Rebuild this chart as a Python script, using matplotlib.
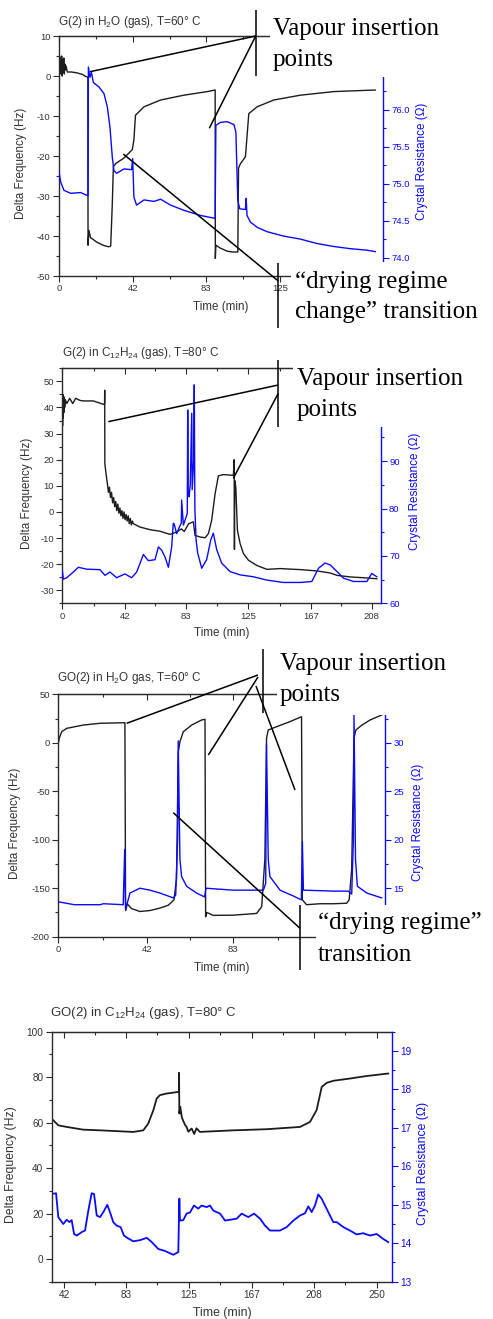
"""Four QCM panels: delta frequency (left axis) and crystal resistance (right axis) vs time."""

import matplotlib

matplotlib.use("Agg")
import matplotlib.pyplot as plt
from matplotlib.patches import Rectangle
from matplotlib.ticker import FixedLocator, FormatStrFormatter, MultipleLocator

# ---- panel 1: G(2) in H2O (gas), T=60 C ----
t1_freq = [0, 0.3, 0.6, 0.9, 1.2, 1.5, 1.8, 2.1, 2.4, 2.7, 3.0, 3.3, 3.6, 4.0, 4.7, 7, 10,
           13.2, 15, 16.3, 16.4, 16.9, 17.8, 21.6, 25.4, 28.2, 29.2, 30.1, 30.7, 32, 36.7,
           41.4, 42.3, 43.2, 48, 57.4, 70.5, 83.7, 88.2, 88.3, 88.6, 91, 95, 98, 101.0,
           101.4, 102.5, 105.3, 107.2, 111.9, 121.3, 136.3, 155.1, 178.6]
freq1 = [0, 5, 0.5, 4.5, 1, 5, 0, 4, 1, 4.5, 0.5, 3, 1.5, 2.5, 1.0, 1.0, 0.8, 0.4, -0.1,
         -0.3, -42.3, -38.6, -40.4, -41.6, -42.4, -42.7, -42.5, -32, -22.7, -21.9, -20.5,
         -18.4, -16, -9.8, -7.7, -6.0, -4.8, -3.9, -3.5, -45.6, -42.3, -43, -43.8, -44,
         -44, -23, -21.9, -20.2, -9.4, -7.7, -6.0, -4.8, -3.9, -3.5]
t1_res = [0, 1.0, 2.8, 6.6, 12.2, 16.0, 16.4, 16.6, 17.5, 18.3, 19.4, 22.6, 25.4, 27.3, 28.8,
          30.1, 31.0, 32.5, 36.7, 41.0, 41.6, 42.3, 43.8, 48, 53.6, 57.4, 63, 70.5, 79.9,
          88.2, 88.6, 91.2, 95, 98.8, 99.9, 101, 102.1, 105.3, 105.7, 106.2, 108.1, 111.9,
          117.5, 126.9, 136.3, 145.7, 155.1, 164.5, 173.9, 178.6]
res1 = [75.16, 75.02, 74.91, 74.87, 74.88, 74.84, 74.84, 76.58, 76.44, 76.51, 76.37, 76.31,
        76.22, 76.04, 75.76, 75.36, 75.18, 75.14, 75.20, 75.19, 75.34, 74.82, 74.71, 74.78,
        74.76, 74.79, 74.71, 74.64, 74.57, 74.53, 75.79, 75.83, 75.84, 75.80, 75.70, 74.77,
        74.66, 74.65, 74.80, 74.57, 74.48, 74.41, 74.35, 74.29, 74.25, 74.19, 74.15, 74.12,
        74.10, 74.08]

# ---- panel 2: G(2) in C12H24 (gas), T=80 C ----
t2_freq = [0, 0.2, 0.4, 0.6, 0.8, 1.0, 1.3, 1.6, 2.0, 3, 5, 7, 9, 11.9, 14, 20.9, 27.6, 28.4,
           28.5, 28.6, 29.4,
           30.3, 31, 31.7, 32.4, 33.1, 33.8, 34.5, 35.2, 35.9, 36.6, 37.3, 38.0, 38.7, 39.4,
           40.1, 40.8, 41.5, 42.2, 42.9, 43.6, 44.3, 45.0, 45.7, 46.4, 47.1, 47.7,
           52.2, 58.9, 65.6, 72.4, 76.9, 80, 82, 83.6, 85, 88.1, 89.2, 92.6, 96, 98.2, 100.4,
           102.7, 104.9, 108.3, 115.0, 115.5, 115.7, 115.9, 116.6, 117.7, 119.5, 121.7, 125.1,
           130.7, 137.5, 146.4, 159.9, 171.1, 180.1, 184.6, 193.5, 204.7, 211.4]
freq2 = [40, 33, 45, 36, 44, 38, 44, 40, 43, 41.5, 43.5, 41.5, 43.5, 42.7, 42.5, 42.5, 41.2,
         41.5, 46.6, 18.5, 14.6,
         10.8, 7.5, 9.5, 5.5, 7.5, 3.5, 5.5, 2.0, 4.0, 0.5, 3.0, -0.5, 1.5, -1.5,
         0.5, -2.5, 0, -3.0, -1.0, -3.5, -1.5, -4.5, -2.5, -5.0, -3.5, -4.5,
         -5.8, -6.8, -7.4, -8.6, -7.7, -6.5, -7.5, -5.8, -4.5, -3.8, -9.0, -9.6, -9.9,
         -8.3, -3.2, 7.0, 13.8, 14.3, 14.0, 20.0, -14.3, 12, 9.6, -7.0, -12.1, -15.9, -18.5,
         -20.5, -22.0, -21.7, -22.1, -22.6, -23.4, -24.3, -24.9, -25.3, -25.6]
t2_res = [0, 0.7, 3, 7.4, 10.8, 16.4, 25.3, 28.7, 32, 36.5, 42.1, 46.6, 50, 54.5, 57.8, 62.3,
          64.6, 66.8, 69.1, 71.3, 73.5, 74.6, 75.1, 76.9, 78.7, 80.0, 80.2, 81.4, 83.2, 84.0,
          84.3, 84.6, 85.2, 86.0, 87.0, 87.3, 88.3, 88.7, 89.1, 89.9, 91, 93.7, 97, 99.8,
          101.5, 103.8, 107.1, 112.7, 119.5, 128.4, 137.5, 148.6, 159.9, 167.7, 172.2, 176.6,
          180.1, 184.6, 189, 195.8, 204.7, 208, 211.4]
res2 = [66.9, 65.1, 65.4, 66.6, 67.6, 67.2, 67.1, 65.9, 66.6, 65.4, 66.2, 65.4, 66.6, 70.3,
        69.0, 69.2, 71.9, 71.2, 69.7, 67.6, 71.9, 76.9, 76.8, 74.7, 76.1, 76.9, 81.8, 76.5,
        78.2, 79, 100.8, 83, 82.5, 85, 100.1, 84, 90, 106.1, 80, 73.4, 70.6, 67.4, 69.2,
        73.4, 74.8, 71.3, 68.5, 66.7, 66.0, 65.6, 64.9, 64.4, 64.4, 64.6, 67.4, 68.5, 68.1,
        66.7, 65.3, 64.6, 64.6, 66.3, 65.6]

# ---- panel 3: GO(2) in H2O gas, T=60 C ----
t3_freq = [0, 0.5, 1.6, 4.0, 11.9, 19.8, 31.6, 31.9, 32.0, 32.7, 34.7, 38.7, 43.5, 48.2,
           52.2, 54.9, 56.1, 56.9, 57.7, 59.3, 63.3, 68.0, 69.6, 69.9, 70.4, 73.5, 83.0,
           94.1, 96.5, 98.0, 98.8, 99.6, 103.6, 109.9, 115.4, 115.8, 117.8, 124.1, 130.5,
           136.8, 138.0, 139.2, 140.3, 141.2, 143.9, 147.9, 153.4]
freq3 = [-0.6, 5, 11.4, 14.9, 18.3, 20.1, 20.7, -160, -173, -166, -171, -174, -173, -170.5,
         -167.5, -162, -140, -10, 1.1, 11.4, 18.3, 23.5, 24.2, -179.5, -175, -178, -177.8,
         -176, -169, -120, 5, 13.2, 16.6, 21.8, 26.9, -162, -167, -166, -166, -165.5, -162,
         -130, 5, 13.2, 18, 23.5, 28.6]
t3_res = [0, 7.6, 19.8, 21.4, 30.8, 31.5, 31.9, 34.0, 38.7, 43.5, 48.2, 54.6, 55.7, 56.6,
          56.9, 57.7, 58.5, 60.9, 65.6, 69.4, 70.1, 83.0, 97.3, 98.4, 98.8, 99.6, 100.4,
          105.2, 111.5, 115.3, 115.8, 116.3, 130.5, 137.6, 139.2, 140.0, 140.3, 141.0, 141.9,
          146.4, 153.4]
res3 = [13.6, 13.3, 13.3, 13.4, 13.3, 19.0, 12.8, 14.5, 15.0, 14.8, 14.5, 14.0, 14.3, 20,
        30.2, 18, 16.2, 15.2, 14.5, 14.1, 15.0, 14.8, 14.8, 15.5, 29.8, 18, 16.2, 14.8, 14.2,
        13.8, 19.8, 14.8, 14.7, 14.7, 14.4, 20, 32.9, 18, 15.2, 14.5, 14.0]

# ---- panel 4: GO(2) in C12H24 (gas), T=80 C ----
t4_freq = [34.7, 38, 43.6, 54.6, 65.8, 87.9, 94.6, 97.9, 101.3, 103.5, 105.7, 110.2, 117.9,
           118.3, 118.4, 118.6, 119.2, 120.2, 121.0, 122.4, 123.5, 124.6, 126.8, 128.5,
           130.0, 132.3, 135, 154.5, 176.8, 199, 205.6, 210, 213.4, 216.7, 221.1, 232.2,
           243.3, 257.7]
freq4 = [61.0, 58.8, 58.1, 56.9, 56.6, 55.9, 56.6, 59.6, 65.5, 70.6, 72.1, 72.8, 73.5, 73.5,
         81.9, 64, 67, 62.5, 61, 59, 58, 56, 57.4, 55, 57.5, 55.9, 56.0, 56.6, 57.1, 58.1,
         60.3, 65.5, 75.7, 77.5, 78.4, 79.4, 80.5, 81.6]
t4_res = [35.1, 36.5, 38.0, 41.3, 43.6, 45.4, 46.9, 48.5, 50.3, 53.6, 55.8, 58.0, 60.2, 61.8,
          63.6, 65.8, 68.0, 70.6, 72.4, 74.6, 76.8, 79.5, 81.7, 83.5, 87.9, 92.4, 96.9,
          100.2, 104.6, 109.0, 114.6, 117.9, 118.6, 119.0, 121.2, 123.4, 125.7, 128.3,
          131.2, 133.4, 136.8, 139.0, 141.2, 143.4, 145.7, 149.0, 152.4, 156.8, 160.1,
          164.5, 168.3, 172.3, 175.6, 179.0, 185.6, 190.1, 194.5, 198.9, 202.3, 204.5,
          206.7, 208.9, 211.1, 213.3, 215.6, 218.9, 221.1, 223.3, 227.8, 232.2, 236.6,
          241.1, 245.5, 250.0, 254.4, 257.7]
res4 = [15.29, 15.30, 14.68, 14.50, 14.61, 14.55, 14.60, 14.24, 14.20, 14.29, 14.33, 14.85,
        15.30, 15.28, 14.72, 14.68, 14.81, 15.00, 14.81, 14.55, 14.46, 14.42, 14.20, 14.15,
        14.05, 14.08, 14.14, 14.03, 13.85, 13.80, 13.70, 13.77, 15.16, 14.59, 14.60, 14.77,
        14.80, 14.98, 14.90, 14.98, 14.94, 14.98, 14.85, 14.81, 14.77, 14.59, 14.61, 14.64,
        14.77, 14.68, 14.77, 14.64, 14.46, 14.33, 14.33, 14.42, 14.59, 14.72, 14.78, 14.96,
        14.81, 14.98, 15.27, 15.16, 14.98, 14.72, 14.55, 14.55, 14.42, 14.33, 14.23, 14.26,
        14.20, 14.24, 14.11, 14.03]

titles = [
    r"G(2) in H$_\mathregular{2}$O (gas), T=60° C",
    r"G(2) in C$_\mathregular{12}$H$_\mathregular{24}$ (gas), T=80° C",
    r"GO(2) in H$_\mathregular{2}$O gas, T=60° C",
    r"GO(2) in C$_\mathregular{12}$H$_\mathregular{24}$ (gas), T=80° C",
]
# labelled time ticks (those hidden under the text boxes are left out) and minor ticks
time_ticks_1 = [0, 42, 83, 125]
time_ticks_2 = [0, 42, 83, 125, 167, 208]
time_ticks_3 = [0, 42, 83]
time_ticks_4 = [42, 83, 125, 167, 208, 250]
time_minor = [21, 62.5, 104, 146, 187.5, 229]
res_ticks_1 = [74.0, 74.5, 75.0, 75.5, 76.0, 76.5]
res_ticks_2 = [60, 70, 80, 90]
res_ticks_3 = [15, 20, 25, 30]
res_ticks_4 = [13, 14, 15, 16, 17, 18, 19]

W, H = 493, 1319
BLACK = "#1c1c1c"
BLUE = "#0a0aff"
TEXT = "#333333"
SPINE = "#2b2b2b"

plt.rcParams["font.family"] = ["Liberation Sans", "DejaVu Sans"]
plt.rcParams["mathtext.fontset"] = "custom"
plt.rcParams["mathtext.rm"] = "Liberation Sans"
plt.rcParams["axes.unicode_minus"] = False

fig = plt.figure(figsize=(W / 100, H / 100), dpi=100)


def px_axes(left, top, right, bottom):
    """Axes placed with pixel edges (origin top-left)."""
    return fig.add_axes([left / W, 1 - bottom / H, (right - left) / W, (bottom - top) / H])


def draw_panel(box, t_freq, freq, t_res, res, xlim, xticks, ylim, ystep,
               rlim, rticks, rminor, rfmt, tick_size, lw):
    ax = px_axes(*box)
    ax.plot(t_freq, freq, color=BLACK, lw=lw)
    ax.set_xlim(*xlim)
    ax.set_ylim(*ylim)
    ax.xaxis.set_major_locator(FixedLocator(xticks))
    ax.xaxis.set_minor_locator(FixedLocator(time_minor))
    ax.yaxis.set_major_locator(MultipleLocator(ystep))
    ax.yaxis.set_minor_locator(MultipleLocator(ystep / 2))
    ax.tick_params(which="both", direction="out", color=SPINE, labelcolor=TEXT,
                   labelsize=tick_size, width=0.8, pad=2, top=False, right=False)
    ax.tick_params(which="major", length=4)
    ax.tick_params(which="minor", length=2.5)
    for s in ("left", "bottom", "top"):
        ax.spines[s].set_color(SPINE)
        ax.spines[s].set_linewidth(1.0)
    ax.spines["right"].set_visible(False)

    # top axis: same ticks, pointing inward, no labels
    top = ax.secondary_xaxis("top")
    top.xaxis.set_major_locator(FixedLocator(xticks))
    top.xaxis.set_minor_locator(FixedLocator(time_minor))
    top.tick_params(which="both", direction="in", color=SPINE, width=0.8,
                    labeltop=False, labelbottom=False)
    top.tick_params(which="major", length=4)
    top.tick_params(which="minor", length=2.5)
    top.spines["top"].set_color(SPINE)

    tw = ax.twinx()
    tw.plot(t_res, res, color=BLUE, lw=lw)
    tw.set_ylim(*rlim)
    tw.yaxis.set_major_locator(FixedLocator(rticks))
    tw.yaxis.set_minor_locator(MultipleLocator(rminor))
    tw.yaxis.set_major_formatter(FormatStrFormatter(rfmt))
    tw.tick_params(which="both", direction="out", colors=BLUE, labelsize=tick_size,
                   width=0.8, pad=2)
    tw.tick_params(which="major", length=4)
    tw.tick_params(which="minor", length=2.5)
    for s in ("left", "top", "bottom"):
        tw.spines[s].set_visible(False)
    tw.spines["right"].set_color(BLUE)
    tw.spines["right"].set_linewidth(1.0)
    return ax, tw


draw_panel((59, 36, 383, 276), t1_freq, freq1, t1_res, res1, (0, 183), time_ticks_1,
           (-50, 10), 10, (73.75, 77.0), res_ticks_1, 0.25, "%.1f", 6.8, 1.0)
draw_panel((62.3, 368.3, 380.7, 603.3), t2_freq, freq2, t2_res, res2, (0, 214), time_ticks_2,
           (-35, 55), 10, (60, 109.6), res_ticks_2, 5, "%d", 6.8, 1.0)
draw_panel((58.3, 694.3, 385, 936.7), t3_freq, freq3, t3_res, res3, (0, 155), time_ticks_3,
           (-200, 50), 50, (10, 35), res_ticks_3, 2.5, "%d", 6.8, 1.0)
draw_panel((51.7, 1031.7, 391.7, 1281.7), t4_freq, freq4, t4_res, res4, (33.6, 260),
           time_ticks_4, (-10, 100), 20, (13, 19.5), res_ticks_4, 0.5, "%d", 7.2, 1.3)

# overlay in pixel coordinates for titles, labels, white text boxes and annotations
ov = fig.add_axes([0, 0, 1, 1], zorder=10)
ov.set_xlim(0, W)
ov.set_ylim(H, 0)
ov.axis("off")

title_pos = [(58.3, 22), (61.7, 352.7), (56.7, 678.3), (50, 1013.3)]
title_size = [8.5, 8.5, 8.5, 9.5]
for (x, y), s, fs in zip(title_pos, titles, title_size):
    ov.text(x, y, s, fontsize=fs, color=TEXT, ha="left", va="center")

label_pos = [
    ((21, 163.5), (421.7, 161.7), (221, 307), 8.4),
    ((26.7, 493.3), (415, 491.7), (222, 633.3), 8.4),
    ((15, 823.3), (418.3, 822.5), (221.3, 968.3), 8.4),
    ((10.7, 1165), (423.3, 1163.3), (222, 1313.3), 8.8),
]
for left, right, bottom, fs in label_pos:
    ov.text(*left, "Delta Frequency (Hz)", fontsize=fs, color=TEXT, rotation=90,
            ha="center", va="center")
    ov.text(*right, "Crystal Resistance (Ω)", fontsize=fs, color=BLUE, rotation=90,
            ha="center", va="center")
    ov.text(*bottom, "Time (min)", fontsize=fs, color=TEXT, ha="center", va="center")

# white boxes that hide parts of the frames behind the annotation text
covers = [(270, 0, 493, 76.5), (291, 262, 493, 330), (293, 330, 493, 426.7),
          (277, 640, 493, 715), (316, 905, 493, 975)]
for x0, y0, x1, y1 in covers:
    ov.add_patch(Rectangle((x0, y0), x1 - x0, y1 - y0, facecolor="white", edgecolor="none"))

pointer_lines = [
    ((255.7, 255.7), (10, 76)), ((255.7, 90), (36, 71.7)), ((255.7, 209.3), (36, 128.3)),
    ((278.3, 278.3), (263, 328)), ((123.3, 278.3), (154, 281)),
    ((278.3, 278.3), (360, 426.7)), ((278.3, 108.3), (385, 421.7)),
    ((278.3, 233.3), (393.3, 478.3)),
    ((262.5, 262.5), (649, 713)), ((258, 126.7), (675, 723.3)), ((258, 208.3), (677, 755)),
    ((256, 295), (686, 790)),
    ((300, 300), (905, 970)), ((173.3, 300), (812.7, 928.3)),
]
for xs, ys in pointer_lines:
    ov.plot(xs, ys, color="black", lw=1.1, solid_capstyle="butt")

# annotation text, one line each (left x, centre y)
notes = [
    (273, 29, "Vapour insertion"), (273, 60, "points"),
    (295, 282, "\u201cdrying regime"), (295, 312, "change\u201d transition"),
    (296.7, 379.3, "Vapour insertion"), (296.7, 410, "points"),
    (280, 664, "Vapour insertion"), (280, 695, "points"),
    (318, 923, "\u201cdrying regime\u201d"), (318, 955, "transition"),
]
for x, y, s in notes:
    ov.text(x, y, s, fontsize=18, family="Liberation Serif", color="black",
            ha="left", va="center")

fig.savefig("out.png", dpi=100)
